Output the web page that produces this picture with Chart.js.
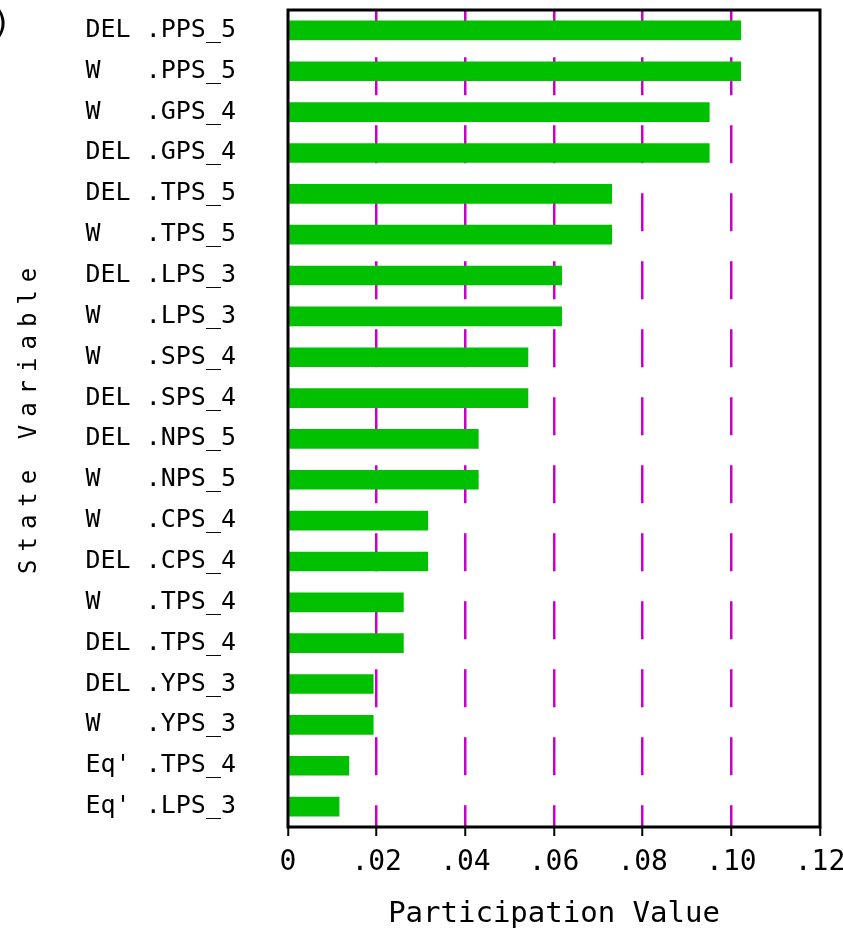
<!DOCTYPE html>
<html>
<head>
<meta charset="utf-8">
<title>Participation Value by State Variable</title>
<script src="https://cdn.jsdelivr.net/npm/chart.js@4"></script>
<style>
    html, body { margin: 0; padding: 0; background: #fff; }
    #wrap { width: 843px; height: 932px; position: relative; }
</style>
</head>
<body>
<div id="wrap"><canvas id="pvChart"></canvas></div>
<script>
// state variables, top to bottom
const stateVars = [
    "DEL .PPS_5", "W   .PPS_5", "W   .GPS_4", "DEL .GPS_4",
    "DEL .TPS_5", "W   .TPS_5", "DEL .LPS_3", "W   .LPS_3",
    "W   .SPS_4", "DEL .SPS_4", "DEL .NPS_5", "W   .NPS_5",
    "W   .CPS_4", "DEL .CPS_4", "W   .TPS_4", "DEL .TPS_4",
    "DEL .YPS_3", "W   .YPS_3", "Eq' .TPS_4", "Eq' .LPS_3"
];

const participation = [
    0.1022, 0.1022, 0.0951, 0.0951,
    0.0731, 0.0731, 0.0618, 0.0618,
    0.0542, 0.0542, 0.0430, 0.0430,
    0.0316, 0.0316, 0.0261, 0.0261,
    0.0193, 0.0193, 0.0138, 0.0116
];

const xTickLabels = ["0", ".02", ".04", ".06", ".08", ".10", ".12"];

const MONO = "'DejaVu Sans Mono', monospace";

// frame round the plot area plus the rotated, letter-spaced y title
const framePlugin = {
    id: "frame",
    afterDraw(chart) {
        const { ctx, chartArea: a } = chart;
        ctx.save();
        ctx.strokeStyle = "#000";
        ctx.lineWidth = 3;
        ctx.strokeRect(a.left, a.top, a.right - a.left, a.bottom - a.top);

        ctx.fillStyle = "#000";
        ctx.font = "24px " + MONO;
        ctx.textBaseline = "alphabetic";
        ctx.textAlign = "left";
        ctx.save();
        ctx.translate(36, 574);
        ctx.rotate(-Math.PI / 2);
        ctx.letterSpacing = "8px";
        ctx.fillText("State Variable", 0, 0);
        ctx.restore();

        // clipped panel mark in the corner
        ctx.font = "32px " + MONO;
        ctx.fillText(")", -8, 33);
        ctx.restore();
    }
};

const ctx = document.getElementById("pvChart").getContext("2d");

new Chart(ctx, {
    type: "bar",
    data: {
        labels: stateVars,
        datasets: [{
            data: participation,
            backgroundColor: "#00c000",
            borderWidth: 0,
            barPercentage: 0.48,
            categoryPercentage: 1
        }]
    },
    options: {
        indexAxis: "y",
        responsive: true,
        maintainAspectRatio: false,
        animation: false,
        layout: {
            padding: { top: 10, right: 23, left: 0, bottom: 0 }
        },
        plugins: {
            legend: { display: false },
            tooltip: { enabled: false }
        },
        scales: {
            x: {
                min: 0,
                max: 0.12,
                afterFit: (scale) => {
                    scale.height = 105;
                    // let the end labels hang past the plot edges
                    scale.paddingLeft = 0;
                    scale.paddingRight = 0;
                },
                ticks: {
                    stepSize: 0.02,
                    color: "#000",
                    font: { family: MONO, size: 28 },
                    padding: 10,
                    maxRotation: 0,
                    callback: (v, i) => xTickLabels[i]
                },
                grid: {
                    color: (c) => (c.tick && (c.tick.value === 0 || c.index === 6)) ? "rgba(0,0,0,0)" : "#c800c8",
                    lineWidth: 2.5,
                    drawTicks: true,
                    tickLength: 9,
                    tickColor: "#000",
                    tickWidth: 2,
                    tickBorderDash: []
                },
                border: { display: false, dash: [38, 30], dashOffset: 20.7 },
                title: {
                    display: true,
                    text: "Participation Value",
                    color: "#000",
                    font: { family: MONO, size: 29 },
                    padding: { top: 0, bottom: 0 }
                }
            },
            y: {
                afterFit: (scale) => {
                    scale.width = 288;
                    scale.paddingTop = 0;
                    scale.paddingBottom = 0;
                },
                ticks: {
                    color: "#000",
                    font: { family: MONO, size: 25 },
                    padding: 2,
                    autoSkip: false
                },
                grid: { display: false, drawTicks: true, tickLength: 50 },
                border: { display: false }
            }
        }
    },
    plugins: [framePlugin]
});
</script>
</body>
</html>
